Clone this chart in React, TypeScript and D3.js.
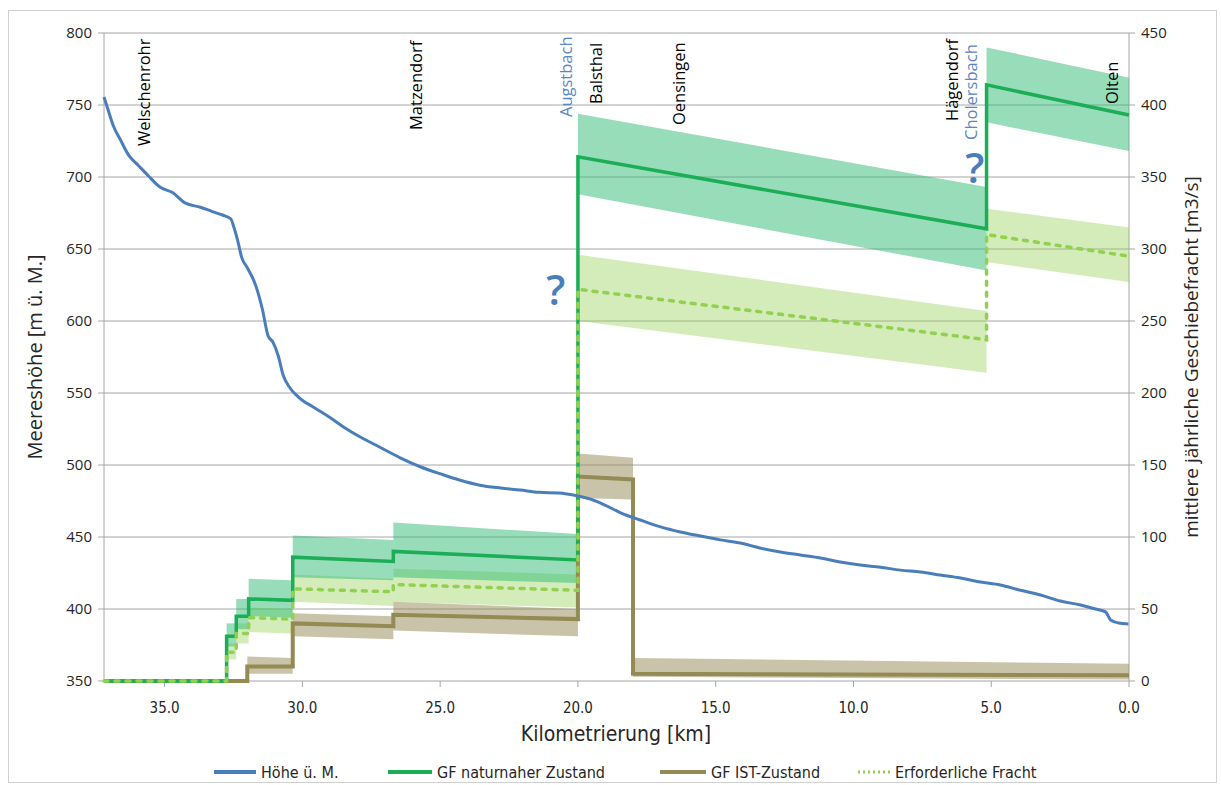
import React from "react";
import * as d3 from "d3";

// ---------- DATA ----------
const kmDomain = [37.2, 0];
const elevTicks = [350, 400, 450, 500, 550, 600, 650, 700, 750, 800];
const freightTicks = [0, 50, 100, 150, 200, 250, 300, 350, 400, 450];
const kmTicks = [35, 30, 25, 20, 15, 10, 5, 0];

// Höhe ü. M. (elevation profile)
const profileKm = [37.2, 37.05, 36.87, 36.6, 36.3, 35.95, 35.6, 35.17, 34.7, 34.26, 33.7, 33.27, 32.9, 32.6, 32.5, 32.35, 32.2, 32.0, 31.7, 31.45, 31.25, 31.06, 30.88, 30.7, 30.45, 30.1, 29.55, 29.0, 28.45, 27.9, 27.2, 26.45, 25.7, 24.98, 24.3, 23.56, 22.8, 22.1, 21.4, 20.7, 20.0, 19.55, 19.0, 18.47, 17.74, 17.0, 16.28, 15.56, 14.83, 14.1, 13.4, 12.65, 11.93, 11.2, 10.48, 9.75, 9.02, 8.3, 7.57, 6.85, 6.12, 5.39, 4.67, 3.94, 3.21, 2.49, 1.76, 1.22, 0.85, 0.67, 0.38, 0.02];
const profileElev = [755.6, 746.5, 736, 725.7, 715, 708, 701, 693, 689, 682, 679, 676, 673.6, 671, 666, 656, 644, 637, 625, 608, 590, 585, 576, 562.5, 553.5, 546.5, 539.6, 533, 525.7, 519.4, 512.5, 505, 498.6, 493.8, 489.6, 486, 484, 482.6, 481, 480.6, 478.5, 476.4, 472, 467, 461.8, 457, 453.5, 450.7, 448, 445.8, 442.4, 439.6, 437.5, 435.4, 432.6, 430.5, 429, 427, 425.7, 423.6, 421.5, 418.7, 416.7, 413, 409.7, 405.5, 402.8, 400, 398, 392.4, 390.3, 389.6];

// segments: [kmFrom, kmTo, valueFrom, valueTo, lowFrom, lowTo, highFrom, highTo]  (m3/s)
const naturSegments = [
  [32.75, 32.4, 31, 31, 24, 24, 40, 40],
  [32.4, 31.95, 45, 45, 36, 36, 57, 57],
  [31.95, 30.35, 57, 56, 45, 44, 71, 70],
  [30.35, 26.7, 86, 83, 72, 70, 101, 98],
  [26.7, 20.0, 90, 84, 72, 68, 110, 102],
  [20.0, 5.17, 364, 314, 338, 285, 394, 343],
  [5.17, 0, 414, 393, 388, 368, 440, 419],
];
const requiredSegments = [
  [32.75, 32.4, 20, 20, 15, 15, 26, 26],
  [32.4, 31.95, 33, 33, 26, 26, 40, 40],
  [31.95, 30.35, 44, 43, 34, 33, 51, 50],
  [30.35, 26.7, 64, 62, 55, 52, 74, 71],
  [26.7, 20.0, 67, 63, 55, 51, 78, 74],
  [20.0, 5.17, 272, 237, 250, 214, 296, 257],
  [5.17, 0, 310, 295, 291, 277, 328, 315],
];
const istSegments = [
  [32.0, 30.35, 10, 10, 5, 5, 17, 16],
  [30.35, 26.7, 40, 38, 31, 29, 47, 45],
  [26.7, 20.0, 46, 43, 35, 31, 55, 50],
  [20.0, 18.0, 142, 140, 127, 126, 158, 155],
  [18.0, 0, 5, 4, 3, 1, 16, 12],
];

const townNames = ["Welschenrohr", "Matzendorf", "Augstbach", "Balsthal", "Oensingen", "Hägendorf", "Cholersbach", "Olten"];
const townKm = [35.74, 25.87, 20.43, 19.34, 16.32, 6.44, 5.75, 0.6];
const townIsRiver = [false, false, true, false, false, false, true, false];

const legendLabels = ["Höhe ü. M.", "GF naturnaher Zustand", "GF IST-Zustand", "Erforderliche Fracht"];

// ---------- LAYOUT ----------
const W = 1221, H = 785;
const PL = 104, PR = 1129, PT = 33, PB = 681;
const townBottomY = [146, 130, 117, 104, 125, 121, 140, 104];

const C_BLUE = "#4a7ebb";
const C_GREEN = "#1cae57";
const C_BROWN = "#948a54";
const C_DOT = "#92d050";
const C_GRID = "#a6a6a6";
const C_TEXT = "#262626";

export default function App() {
  const x = d3.scaleLinear().domain(kmDomain).range([PL, PR]);
  const yL = d3.scaleLinear().domain([350, 800]).range([PB, PT]);
  const yR = d3.scaleLinear().domain([0, 450]).range([PB, PT]);

  const profile = profileKm.map((k, i) => [k, profileElev[i]] as [number, number]);
  const profileLine = d3.line<[number, number]>().x(d => x(d[0])).y(d => yL(d[1])).curve(d3.curveMonotoneX);

  const stepPath = (segs: number[][]) => {
    const pts: [number, number][] = [[kmDomain[0], 0]];
    segs.forEach(s => {
      pts.push([s[0], pts[pts.length - 1][1]]);
      pts.push([s[0], s[2]]);
      pts.push([s[1], s[3]]);
    });
    return d3.line<[number, number]>().x(d => x(d[0])).y(d => yR(d[1]))(pts) || "";
  };

  const area = d3.area<[number, number, number]>().x(d => x(d[0])).y0(d => yR(d[1])).y1(d => yR(d[2]));
  const bands = (segs: number[][]) =>
    segs.map(s => area([[s[0], s[4], s[6]], [s[1], s[5], s[7]]]) || "");

  const font = "'Open Sans', 'DejaVu Sans', sans-serif";
  const narrow = "'Liberation Sans Narrow', 'DejaVu Sans Condensed', 'Open Sans', sans-serif";

  const legendX = [214, 388, 660, 858];
  const legendLineLen = [42, 44, 46, 32];

  return (
    <svg width={W} height={H} style={{ position: "absolute", left: 0, top: 0, background: "#fff" }} fontFamily={font}>
      <rect x={8.5} y={10.5} width={1208} height={772} fill="#fff" stroke="#d0d0d0" />
      {/* gridlines */}
      {elevTicks.map(t => (
        <line key={"g" + t} x1={PL} x2={PR} y1={yL(t)} y2={yL(t)} stroke={C_GRID} strokeWidth={1} />
      ))}
      {/* axes lines */}
      <line x1={PL} x2={PL} y1={PT} y2={PB} stroke={C_GRID} />
      <line x1={PR} x2={PR} y1={PT} y2={PB} stroke={C_GRID} />
      {elevTicks.map(t => (
        <line key={"lt" + t} x1={PL - 6} x2={PL} y1={yL(t)} y2={yL(t)} stroke={C_GRID} />
      ))}
      {freightTicks.map(t => (
        <line key={"rt" + t} x1={PR} x2={PR + 6} y1={yR(t)} y2={yR(t)} stroke={C_GRID} />
      ))}
      {kmTicks.map(t => (
        <line key={"xt" + t} x1={x(t)} x2={x(t)} y1={PB} y2={PB + 6} stroke={C_GRID} />
      ))}

      {/* bands */}
      {bands(requiredSegments).map((d, i) => (
        <path key={"rb" + i} d={d} fill={C_DOT} fillOpacity={0.4} />
      ))}
      {bands(naturSegments).map((d, i) => (
        <path key={"nb" + i} d={d} fill="#2fbc74" fillOpacity={0.5} />
      ))}
      {bands(istSegments).map((d, i) => (
        <path key={"ib" + i} d={d} fill={C_BROWN} fillOpacity={0.5} />
      ))}

      {/* lines */}
      <path d={stepPath(istSegments)} fill="none" stroke={C_BROWN} strokeWidth={4} strokeLinejoin="miter" />
      <path d={stepPath(naturSegments)} fill="none" stroke={C_GREEN} strokeWidth={3.5} />
      <path d={stepPath(requiredSegments)} fill="none" stroke={C_DOT} strokeWidth={3.5} strokeDasharray="4 7" strokeLinecap="round" />
      <path d={profileLine(profile) || ""} fill="none" stroke={C_BLUE} strokeWidth={3} />

      {/* question marks */}
      <text x={x(20.8)} y={305} fontSize={42} fontWeight={600} fill={C_BLUE} textAnchor="middle">?</text>
      <text x={x(5.6)} y={183} fontSize={42} fontWeight={600} fill={C_BLUE} textAnchor="middle">?</text>

      {/* town labels */}
      {townNames.map((n, i) => {
        const bx = x(townKm[i]) + 6;
        const by = townBottomY[i];
        return (
          <text key={n} transform={`translate(${bx},${by}) rotate(-90)`} fontSize={16.5}
            fill={townIsRiver[i] ? "#5a86c6" : "#000"}>{n}</text>
        );
      })}

      {/* tick labels */}
      {elevTicks.map(t => (
        <text key={"ll" + t} x={92} y={yL(t) + 5} fontSize={15} textAnchor="end" fill={C_TEXT}>{t}</text>
      ))}
      {freightTicks.map(t => (
        <text key={"rl" + t} x={1141} y={yR(t) + 5} fontSize={15} textAnchor="start" fill={C_TEXT}>{t}</text>
      ))}
      {kmTicks.map(t => (
        <text key={"xl" + t} x={x(t)} y={713} fontSize={15} textAnchor="middle" fill={C_TEXT} fontFamily={narrow}>{t.toFixed(1)}</text>
      ))}

      {/* axis titles */}
      <text transform={`translate(42,357) rotate(-90)`} fontSize={20} textAnchor="middle" fill={C_TEXT}>Meereshöhe [m ü. M.]</text>
      <text transform={`translate(1198,357) rotate(-90)`} fontSize={19} textAnchor="middle" fill={C_TEXT}>mittlere jährliche Geschiebefracht [m3/s]</text>
      <text x={616} y={741} fontSize={21} textAnchor="middle" fill={C_TEXT} fontFamily={narrow}>Kilometrierung [km]</text>

      {/* legend */}
      {legendLabels.map((l, i) => {
        const lx = legendX[i];
        const color = [C_BLUE, C_GREEN, C_BROWN, C_DOT][i];
        return (
          <g key={l}>
            <line x1={lx} x2={lx + legendLineLen[i]} y1={772} y2={772} stroke={color}
              strokeWidth={i === 3 ? 3 : 4} strokeDasharray={i === 3 ? "2 3" : undefined} />
            <text x={lx + legendLineLen[i] + 5} y={778} fontSize={16} fill={C_TEXT} fontFamily={narrow}>{l}</text>
          </g>
        );
      })}
    </svg>
  );
}
